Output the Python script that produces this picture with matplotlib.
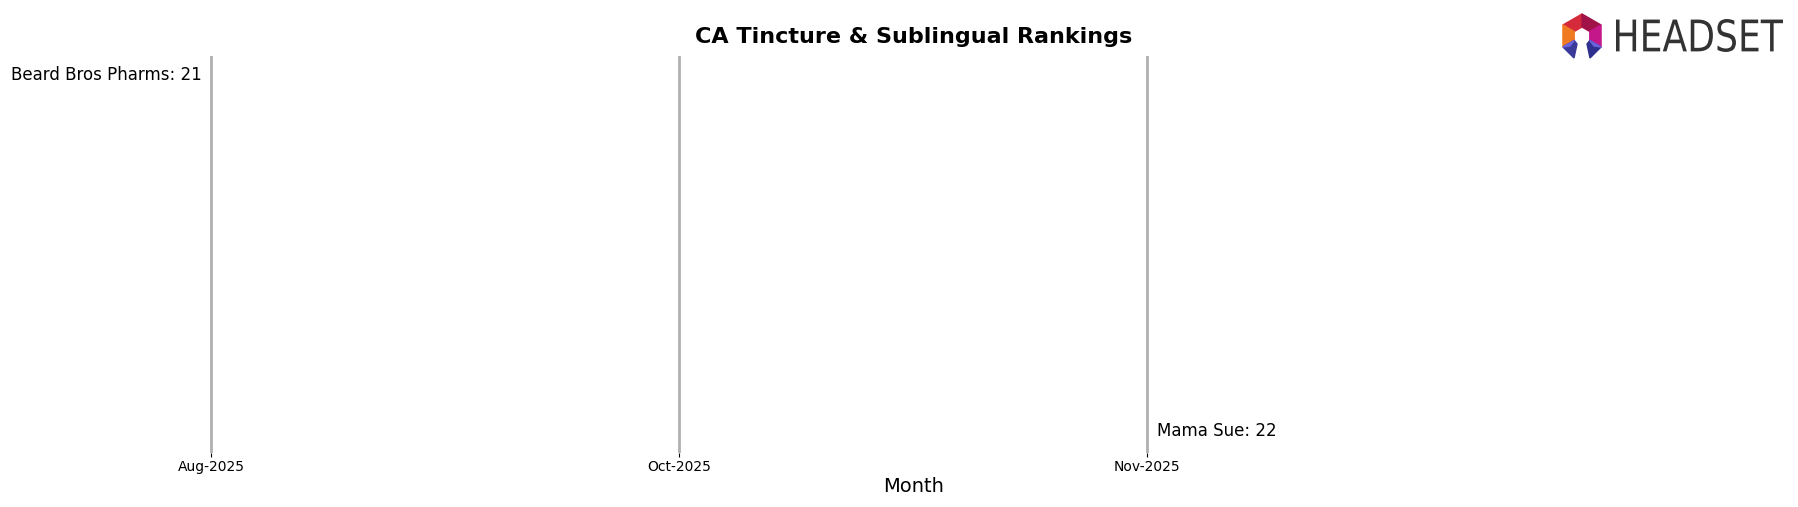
import matplotlib.pyplot as plt
from matplotlib.patches import Polygon, PathPatch
from matplotlib.textpath import TextPath
from matplotlib.font_manager import FontProperties
from matplotlib.transforms import Affine2D
import numpy as np

# chart data
months = ['Aug-2025', 'Oct-2025', 'Nov-2025']
brands = ['Beard Bros Pharms', 'Mama Sue']
beard_bros_ranks = [21, np.nan, np.nan]
mama_sue_ranks = [np.nan, np.nan, 22]

W, H = 1798, 507
fig = plt.figure(figsize=(W / 100, H / 100), dpi=100)
ax = fig.add_axes([30 / W, (H - 453) / H, (1798 - 30) / W, (453 - 56) / H])

x = np.arange(len(months))

# month guide lines
for xi in x:
    ax.axvline(xi, color='#b0b0b0', linewidth=2, zorder=1)

for name, ranks in zip(brands, [beard_bros_ranks, mama_sue_ranks]):
    ranks = np.array(ranks, dtype=float)
    ax.plot(x, ranks, linewidth=2, zorder=2)
    valid = np.where(~np.isnan(ranks))[0]
    first, last = valid[0], valid[-1]
    if first == 0:
        ax.annotate(f'{name}: {int(ranks[first])}', (x[first], ranks[first]),
                    xytext=(-7, -1), textcoords='offset points',
                    ha='right', va='center', fontsize=12)
    else:
        ax.annotate(f'{name}: {int(ranks[last])}', (x[last], ranks[last]),
                    xytext=(7, 0), textcoords='offset points',
                    ha='left', va='center', fontsize=12)

ax.set_xlim(-0.387, 3.391)
ax.set_ylim(22.061, 20.951)
ax.set_xticks(x)
ax.set_xticklabels(months, fontsize=10)
ax.set_yticks([])
ax.tick_params(axis='x', length=3, pad=2)
for s in ax.spines.values():
    s.set_visible(False)
ax.set_xlabel('Month', fontsize=14, labelpad=2)
fig.text(914 / W, 1 - 37 / H, 'CA Tincture & Sublingual Rankings',
         ha='center', va='center', fontsize=16, fontweight='bold')


# Headset logo (decoration)
def px(pts):
    return [(a / W, 1 - b / H) for a, b in pts]


cx, cy, ro, ri = 1582, 36, 22, 9


def pt(r, ang):
    a = np.radians(ang)
    return (cx + r * np.cos(a), cy - r * np.sin(a))


segments = [
    (90, 150, '#d42a3a'),
    (30, 90, '#a01248'),
    (150, 210, '#f07a22'),
    (330, 390, '#c4178a'),
]
for a0, a1, c in segments:
    poly = [pt(ro, a0), pt(ro, a1), pt(ri, a1), pt(ri, a0)]
    fig.add_artist(Polygon(px(poly), closed=True, color=c, transform=fig.transFigure))

# legs
left_leg = [pt(ro, 210), pt(ri, 210), (1577, 44), (1574, 58)]
right_leg = [pt(ro, 330), pt(ri, 330), (1587, 44), (1590, 58)]
fig.add_artist(Polygon(px(left_leg), closed=True, color='#3a3a9a', transform=fig.transFigure))
fig.add_artist(Polygon(px(right_leg), closed=True, color='#2e2f8e', transform=fig.transFigure))
fig.add_artist(Polygon(px([pt(ro, 210), pt(ri, 210), (1570, 46)]), closed=True,
                       color='#6a63dc', transform=fig.transFigure))
fig.add_artist(Polygon(px([pt(ro, 330), pt(ri, 330), (1594, 46)]), closed=True,
                       color='#6a63dc', transform=fig.transFigure))

# condensed wordmark: squeeze the text path into the logo box
tp = TextPath((0, 0), 'HEADSET', size=30, prop=FontProperties(family='DejaVu Sans'))
ext = tp.get_extents()
x0, x1, ytop, ybot = 1616, 1783, 19, 52
sx = (x1 - x0) / ext.width
sy = (ybot - ytop) / ext.height
tr = (Affine2D().translate(-ext.x0, -ext.y0).scale(sx, sy)
      .translate(x0, H - ybot).scale(1 / W, 1 / H))
fig.add_artist(PathPatch(tr.transform_path(tp), color='#333333', lw=0,
                         transform=fig.transFigure))

fig.savefig('out.png', dpi=100)
